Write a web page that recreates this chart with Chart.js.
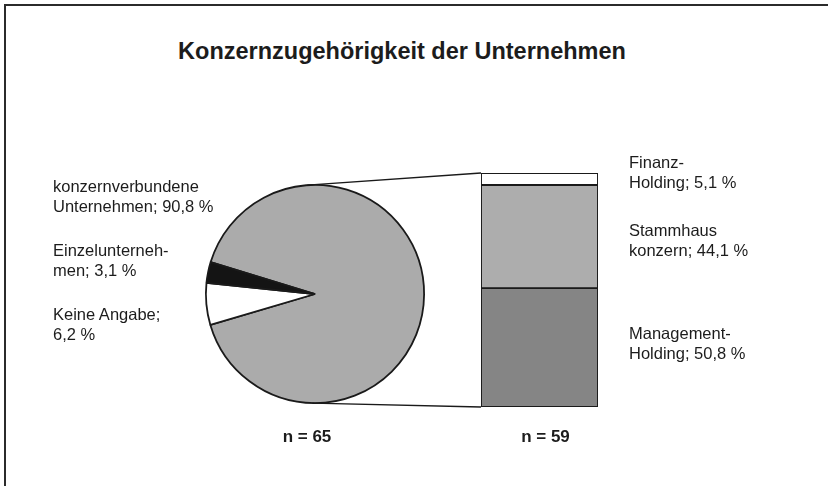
<!DOCTYPE html>
<html>
<head>
<meta charset="utf-8">
<script src="https://cdn.jsdelivr.net/npm/chart.js@4.4.1/dist/chart.umd.min.js"></script>
<style>
  html, body { margin: 0; padding: 0; background: #fff; }
  #wrap { position: relative; width: 828px; height: 486px; overflow: hidden; background: #fff;
          font-family: "Liberation Sans", Arial, sans-serif; color: #1c1c1c; }
  #frame { position: absolute; left: 4px; top: 4px; width: 900px; height: 600px;
           border-left: 2px solid #2b2b2b; border-top: 2px solid #2b2b2b; }
  canvas { position: absolute; }
  .lbl { position: absolute; font-size: 16.5px; line-height: 20px; white-space: pre; }
  .n { position: absolute; font-size: 17px; font-weight: bold; width: 100px; text-align: center; }
  #title { position: absolute; left: 0; width: 804px; top: 38px; text-align: center;
           font-size: 23.5px; font-weight: bold; }
</style>
</head>
<body>
<div id="wrap">
  <div id="frame"></div>
  <div id="title">Konzernzugehörigkeit der Unternehmen</div>
  <canvas id="pieChart" width="240" height="240" style="left:195px; top:174px;"></canvas>
  <canvas id="barChart" width="121" height="238" style="left:479px; top:171px;"></canvas>
  <canvas id="lines" width="828" height="486" style="left:0; top:0;"></canvas>
</div>
<script>
// Kreisdiagramm: alle Unternehmen (n = 65)
var pieCategories = ['konzernverbundene Unternehmen', 'Keine Angabe', 'Einzelunternehmen'];
var pieValues = [90.8, 6.2, 3.1];
var pieColors = ['#ababab', '#ffffff', '#141414'];
var pieLabels = ['konzernverbundene\nUnternehmen; 90,8 %', 'Keine Angabe;\n6,2 %', 'Einzelunterneh-\nmen; 3,1 %'];
var pieN = 'n = 65';

// Säule: Art des Konzerns (n = 59), von unten nach oben
var barCategories = ['Management-Holding', 'Stammhauskonzern', 'Finanz-Holding'];
var barValues = [50.8, 44.1, 5.1];
var barColors = ['#858585', '#adadad', '#ffffff'];
var barLabels = ['Management-\nHolding; 50,8 %', 'Stammhaus\nkonzern; 44,1 %', 'Finanz-\nHolding; 5,1 %'];
var barN = 'n = 59';

var wrap = document.getElementById('wrap');

// Kreis
var pieChart = new Chart(document.getElementById('pieChart').getContext('2d'), {
    type: 'pie',
    data: {
        labels: pieCategories,
        datasets: [{
            data: pieValues,
            backgroundColor: pieColors,
            borderColor: '#1a1a1a',
            borderWidth: 1.8
        }]
    },
    options: {
        responsive: false,
        animation: false,
        rotation: 287,
        layout: { padding: 10 },
        plugins: { legend: { display: false }, tooltip: { enabled: false } }
    }
});

// gestapelte Säule
var barChart = new Chart(document.getElementById('barChart').getContext('2d'), {
    type: 'bar',
    data: {
        labels: [''],
        datasets: barCategories.map(function (name, i) {
            return {
                label: name,
                data: [barValues[i]],
                backgroundColor: barColors[i],
                borderColor: '#1a1a1a',
                borderWidth: 1.3,
                borderSkipped: false,
                barPercentage: 1,
                categoryPercentage: 1
            };
        })
    },
    options: {
        responsive: false,
        animation: false,
        layout: { padding: 2 },
        scales: {
            x: { stacked: true, display: false },
            y: { stacked: true, display: false, min: 0, max: 100 }
        },
        plugins: { legend: { display: false }, tooltip: { enabled: false } }
    }
});

// Beschriftungen neben Kreis und Säule
var pieLabelPos = [[53, 176], [53, 304], [53, 240]];
var barLabelPos = [[629, 323], [629, 220], [629, 152]];

function addLabel(text, pos) {
    var d = document.createElement('div');
    d.className = 'lbl';
    d.textContent = text;
    d.style.left = pos[0] + 'px';
    d.style.top = pos[1] + 'px';
    wrap.appendChild(d);
}
pieLabels.forEach(function (t, i) { addLabel(t, pieLabelPos[i]); });
barLabels.forEach(function (t, i) { addLabel(t, barLabelPos[i]); });

function addN(text, cx) {
    var d = document.createElement('div');
    d.className = 'n';
    d.textContent = text;
    d.style.left = (cx - 50) + 'px';
    d.style.top = '427px';
    wrap.appendChild(d);
}

// Verbindungslinien vom Kreis zur Säule
var arc = pieChart.getDatasetMeta(0).data[0];
var pieCanvas = document.getElementById('pieChart');
var barCanvas = document.getElementById('barChart');
var cx = pieCanvas.offsetLeft + arc.x;
var cy = pieCanvas.offsetTop + arc.y;
var r = arc.outerRadius;

var topBar = barChart.getDatasetMeta(barValues.length - 1).data[0];
var botBar = barChart.getDatasetMeta(0).data[0];
var barLeft = barCanvas.offsetLeft + topBar.x - topBar.width / 2;
var barTop = barCanvas.offsetTop + topBar.y;
var barBottom = barCanvas.offsetTop + botBar.base;

addN(pieN, cx - 8);
addN(barN, barLeft + topBar.width / 2 + 6);

function tangent(px, py, sign) {
    var d = Math.hypot(px - cx, py - cy);
    var a = Math.atan2(py - cy, px - cx) + sign * Math.acos(r / d);
    return [cx + r * Math.cos(a), cy + r * Math.sin(a)];
}

var ctx = document.getElementById('lines').getContext('2d');
ctx.strokeStyle = '#1a1a1a';
ctx.lineWidth = 1.3;
var t1 = tangent(barLeft, barTop, -1);
var t2 = tangent(barLeft, barBottom, 1);
ctx.beginPath();
ctx.moveTo(t1[0], t1[1]);
ctx.lineTo(barLeft, barTop);
ctx.moveTo(t2[0], t2[1]);
ctx.lineTo(barLeft, barBottom);
ctx.stroke();
</script>
</body>
</html>
